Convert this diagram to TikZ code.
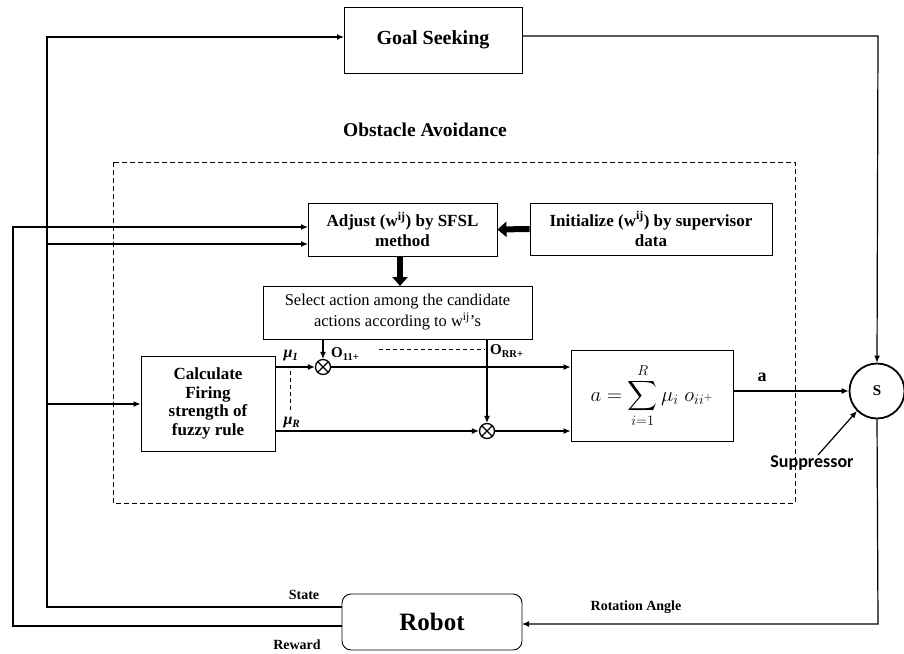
\documentclass[tikz,border=0pt]{standalone}
\usepackage{amsmath}
\usepackage{fontspec}
\setmainfont{Liberation Serif}
\newfontfamily\supfont{Carlito}
\usetikzlibrary{arrows.meta,calc}
\begin{document}
\begin{tikzpicture}[x=1pt,y=-1pt,
  box/.style={draw,line width=0.9pt,inner sep=2pt,align=center,font=\bfseries\fontsize{17}{20}\selectfont},
  conn/.style={line width=1.2pt,-{Latex[length=7pt,width=6pt]}},
  bigarrow/.style={line width=6pt,-{Triangle[width=15pt,length=9pt]}},
  lbl/.style={font=\bfseries\fontsize{14}{15}\selectfont,inner sep=1pt},
  dash/.style={dash pattern=on 5pt off 3pt},
  mult/.style={circle,draw,line width=1.3pt,minimum size=15pt,inner sep=0pt,
    path picture={\draw[line width=1.3pt] (path picture bounding box.north west) -- (path picture bounding box.south east)
      (path picture bounding box.north east) -- (path picture bounding box.south west);}}]
\useasboundingbox (0,0) rectangle (904,653);

% nodes
\node[box,minimum width=178pt,minimum height=66pt,font=\bfseries\fontsize{20}{22}\selectfont] (goal) at (433,40) {Goal Seeking};
\node[font=\bfseries\fontsize{19.5}{21}\selectfont] (obst) at (425,130) {Obstacle Avoidance};
\draw[dash pattern=on 5pt off 3pt,line width=0.9pt] (113,162) rectangle (795,503);
\node[box,minimum width=189pt,minimum height=53pt] (adjust) at (402.5,229.5) {Adjust (w\textsuperscript{ij}) by SFSL\\method};
\node[box,minimum width=242pt,minimum height=52pt] (init) at (651,229) {Initialize (w\textsuperscript{ij}) by supervisor\\data};
\node[box,minimum width=269pt,minimum height=53pt,font=\fontsize{16.5}{21}\selectfont] (select) at (397.5,312.5) {Select action among the candidate\\actions according to w\textsuperscript{ij}’s};
\node[box,minimum width=134pt,minimum height=95pt,font=\bfseries\fontsize{17}{18.5}\selectfont] (calc) at (208,403.5) {Calculate\\Firing\\strength of\\fuzzy rule};
\node[box,minimum width=162pt,minimum height=91pt,font=\fontsize{21}{23}\selectfont] (sum) at (652,395.5) {$\displaystyle a=\sum_{i=1}^{R}\mu_i\; o_{ii^+}$};
\node[mult] (m1) at (323,367) {};
\node[mult] (m2) at (487,431) {};
\node[circle,draw,line width=1.8pt,minimum size=55pt,inner sep=0pt,font=\bfseries\fontsize{15}{16}\selectfont] (S) at (877,391) {S};
\node[draw,line width=0.9pt,rounded corners=9pt,minimum width=180pt,minimum height=56pt,font=\bfseries\fontsize{25}{27}\selectfont] (robot) at (432,622) {Robot};

% labels
\node[font=\bfseries\itshape\fontsize{16}{17}\selectfont,inner sep=0pt] (mu1) at (291,356) {μ\textsubscript{1}};
\node[font=\bfseries\itshape\fontsize{16}{17}\selectfont,inner sep=0pt] (muR) at (292,423) {μ\textsubscript{R}};
\node[font=\bfseries\fontsize{15}{16}\selectfont,inner sep=0pt,anchor=west] (o11) at (331,354) {O\textsubscript{11+}};
\node[font=\bfseries\fontsize{15}{16}\selectfont,inner sep=0pt,anchor=west] (orr) at (490,351) {O\textsubscript{RR+}};
\node[font=\bfseries\fontsize{18}{19}\selectfont,inner sep=0pt] (alab) at (762,377) {a};
\node[font=\supfont\bfseries\fontsize{18}{19}\selectfont,inner sep=1pt] (supp) at (812,463) {Suppressor};
\node[lbl] (state) at (304,595) {State};
\node[lbl] (reward) at (297,645) {Reward};
\node[lbl] (rot) at (636,607) {Rotation Angle};

% coordinates
\coordinate (sR) at (342,607);
\coordinate (sL) at (47,607);
\coordinate (sT) at (47,37);
\coordinate (gIn) at (344,37);
\coordinate (sA) at (47,244);
\coordinate (aIn2) at (308,244);
\coordinate (sC) at (47,404);
\coordinate (rR) at (342,626);
\coordinate (rL) at (13,626);
\coordinate (rT) at (13,227);
\coordinate (aIn1) at (308,227);
\coordinate (gOut) at (522,36);
\coordinate (gC) at (878,36);
\coordinate (sB) at (878,624);
\coordinate (robR) at (522,624);
\coordinate (sel1) at (323,339);
\coordinate (sel2) at (487,339);
\coordinate (supT) at (818,455);
\coordinate (adjB) at (400,256);
\coordinate (selT) at (400,286);

% connectors
\draw[conn] (sR) -- (sL) -- (sT) -- (gIn);
\draw[conn] (sA) -- (aIn2);
\draw[conn] (sC) -- (calc.west |- sC);
\draw[conn] (rR) -- (rL) -- (rT) -- (aIn1);
\draw[conn] (gOut) -- (gC) -- (S.north);
\draw[conn] (S.south) -- (sB) -- (robR);
\draw[bigarrow] (init.west) -- (adjust.east);
\draw[bigarrow] (adjB) -- (selT);
\draw[conn] (sel1) -- (m1.north);
\draw[conn] (sel2) -- (m2.north);
\draw[conn] (calc.east |- m1) -- (m1.west);
\draw[conn] (calc.east |- m2) -- (m2.west);
\draw[conn] (m1.east) -- (sum.west |- m1);
\draw[conn] (m2.east) -- (sum.west |- m2);
\draw[conn] (sum.east |- S) -- (S.west);
\draw[conn] (supT) -- (S.south west);
\draw[dash pattern=on 4pt off 3pt,line width=0.7pt] (290,371) -- (290,413);
\draw[dash pattern=on 4pt off 3pt,line width=0.7pt] (379,349) -- (485,349);
\end{tikzpicture}
\end{document}
